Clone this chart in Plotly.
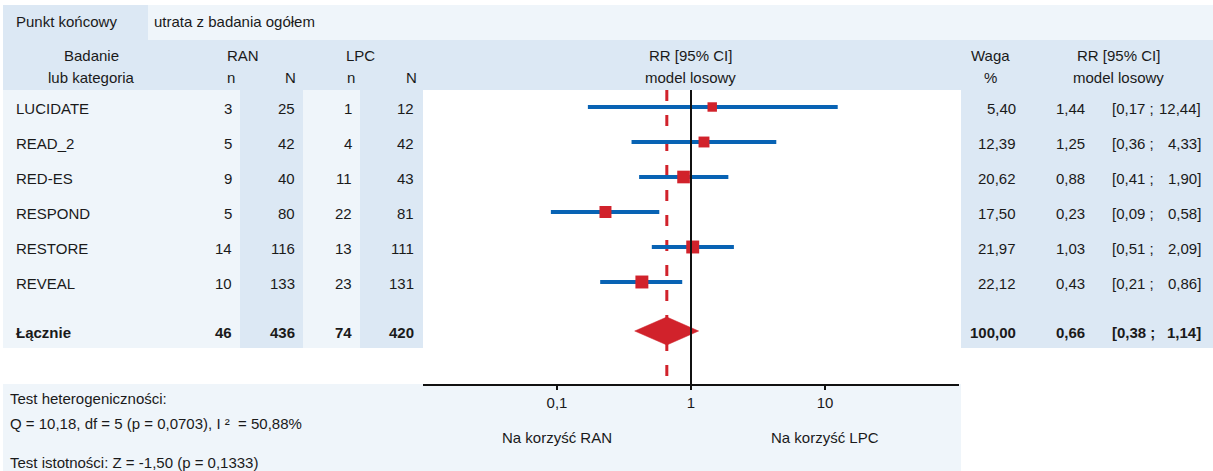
import numpy as np
import plotly.graph_objects as go

# ---- data -------------------------------------------------------------
studies = ["LUCIDATE", "READ_2", "RED-ES", "RESPOND", "RESTORE", "REVEAL"]
ran_n = [3, 5, 9, 5, 14, 10]
ran_N = [25, 42, 40, 80, 116, 133]
lpc_n = [1, 4, 11, 22, 13, 23]
lpc_N = [12, 42, 43, 81, 111, 131]
weights = [5.40, 12.39, 20.62, 17.50, 21.97, 22.12]
rr = [1.44, 1.25, 0.88, 0.23, 1.03, 0.43]
ci_lo = [0.17, 0.36, 0.41, 0.09, 0.51, 0.21]
ci_hi = [12.44, 4.33, 1.90, 0.58, 2.09, 0.86]

total_label = "Łącznie"
total_ran_n, total_ran_N = 46, 436
total_lpc_n, total_lpc_N = 74, 420
total_weight = 100.00
pooled_rr, pooled_lo, pooled_hi = 0.66, 0.38, 1.14

endpoint_label = "Punkt końcowy"
endpoint_value = "utrata z badania ogółem"
heterogeneity_lines = ["Test heterogeniczności:",
                       "Q = 10,18, df = 5 (p = 0,0703), I ²  = 50,88%"]
significance_line = "Test istotności: Z = -1,50 (p = 0,1333)"
tick_vals = [0.1, 1, 10]
tick_text = ["0,1", "1", "10"]
favours = ["Na korzyść RAN", "Na korzyść LPC"]

# ---- layout helpers ---------------------------------------------------
W, H = 1213, 471
FONT = "Liberation Sans, Arial, sans-serif"
FS = 15
TXT = "#1a1a1a"
DARK = "#dce8f4"
LIGHT = "#eff5fa"
BLUE = "#0863b4"
RED = "#d1222b"


def px(x):
    return x / W


def py(y):
    return 1 - y / H


ROW0, ROWH = 107, 35           # pixel centre of first study row, row pitch
TOTAL_ROW = 6.4                # pooled row sits after a half-empty gap
PLOT_TOP, PLOT_BOT = 90, 384   # forest panel vertical extent (pixels)
PLOT_L, PLOT_R = 423, 959      # forest panel horizontal extent (pixels)


def row_px(r):
    return ROW0 + ROWH * r


def px_row(p):
    return (p - ROW0) / ROWH


def fmt(v):
    return f"{v:.2f}".replace(".", ",")


shapes = []


def rect(x0, y0, x1, y1, color):
    shapes.append(dict(type="rect", xref="paper", yref="paper",
                       x0=px(x0), x1=px(x1), y0=py(y1), y1=py(y0),
                       fillcolor=color, line=dict(width=0), layer="below"))


# background panels
rect(3, 5, 148, 40, DARK)
rect(148, 5, W, 40, LIGHT)
rect(3, 40, W, 90, DARK)
rect(3, 90, PLOT_L, 348, LIGHT)
rect(240, 90, 303, 348, DARK)
rect(360, 90, PLOT_L, 348, DARK)
rect(961, 90, W, 348, DARK)
rect(3, 384, 961, H, LIGHT)

annotations = []


def text(x, y, s, anchor="left", bold=False):
    annotations.append(dict(
        xref="paper", yref="paper", x=px(x), y=py(y),
        text=f"<b>{s}</b>" if bold else s, showarrow=False,
        xanchor=anchor, yanchor="middle",
        font=dict(family=FONT, size=FS, color=TXT)))


# top line and headers
text(14, 22, endpoint_label)
text(152, 22, endpoint_value)
H1, H2 = 56, 78
text(91, H1, "Badanie", "center")
text(91, H2, "lub kategoria", "center")
text(243, H1, "RAN", "center")
text(360, H1, "LPC", "center")
text(231, H2, "n", "center")
text(290, H2, "N", "center")
text(351, H2, "n", "center")
text(411, H2, "N", "center")
text(690, H1, "RR [95% CI]", "center")
text(690, H2, "model losowy", "center")
text(990, H1, "Waga", "center")
text(990, H2, "%", "center")
text(1118, H1, "RR [95% CI]", "center")
text(1118, H2, "model losowy", "center")

# table body
X_NAME, X_RN, X_RNN, X_LN, X_LNN = 14, 234, 297, 354, 416
X_W, X_RR, X_CIL, X_CIR = 1018, 1087, 1110, 1203


def table_row(r, name, a, b, c, d, w, est, lo, hi, bold=False):
    y = row_px(r) + 1.5
    text(X_NAME, y, name, "left", bold)
    text(X_RN, y, str(a), "right", bold)
    text(X_RNN, y, str(b), "right", bold)
    text(X_LN, y, str(c), "right", bold)
    text(X_LNN, y, str(d), "right", bold)
    text(X_W, y, fmt(w), "right", bold)
    text(X_RR, y, fmt(est), "right", bold)
    text(X_CIL, y, f"[{fmt(lo)} ;", "left", bold)
    text(X_CIR, y, f"{fmt(hi)}]", "right", bold)


for i, name in enumerate(studies):
    table_row(i, name, ran_n[i], ran_N[i], lpc_n[i], lpc_N[i],
              weights[i], rr[i], ci_lo[i], ci_hi[i])
table_row(TOTAL_ROW, total_label, total_ran_n, total_ran_N, total_lpc_n,
          total_lpc_N, total_weight, pooled_rr, pooled_lo, pooled_hi, bold=True)

# statistics under the table
text(8, 398, heterogeneity_lines[0])
text(8, 423, heterogeneity_lines[1])
text(8, 462, significance_line)

# favour labels centred under the outer ticks (log axis -> log10 units)
for v, s in zip([tick_vals[0], tick_vals[-1]], favours):
    annotations.append(dict(
        xref="x", yref="paper", x=np.log10(v), y=py(437), text=s,
        showarrow=False, xanchor="center", yanchor="middle",
        font=dict(family=FONT, size=FS, color=TXT)))

# ---- forest plot traces ----------------------------------------------
fig = go.Figure()

y_top, y_bot = px_row(PLOT_TOP), px_row(PLOT_BOT)

# pooled estimate reference (dashed)
fig.add_trace(go.Scatter(
    x=[pooled_rr, pooled_rr], y=[y_top, px_row(378)], mode="lines",
    line=dict(color=RED, width=3, dash="11px,14px"), hoverinfo="skip"))

# confidence intervals
cx, cy = [], []
for i in range(len(studies)):
    cx += [ci_lo[i], ci_hi[i], None]
    cy += [i, i, None]
fig.add_trace(go.Scatter(x=cx, y=cy, mode="lines",
                         line=dict(color=BLUE, width=4), hoverinfo="skip"))

# point estimates, box size grows with study weight
sizes = [8.3 + 0.21 * w for w in weights]
fig.add_trace(go.Scatter(
    x=rr, y=list(range(len(studies))), mode="markers",
    marker=dict(symbol="square", size=sizes, color=RED, opacity=1,
                line=dict(width=0)),
    hoverinfo="skip"))

# pooled diamond
dh = 14 / ROWH
fig.add_trace(go.Scatter(
    x=[pooled_lo, pooled_rr, pooled_hi, pooled_rr, pooled_lo],
    y=[TOTAL_ROW, TOTAL_ROW - dh, TOTAL_ROW, TOTAL_ROW + dh, TOTAL_ROW],
    mode="lines", fill="toself", fillcolor=RED,
    line=dict(color=RED, width=0.5), hoverinfo="skip"))

# line of no effect
fig.add_trace(go.Scatter(x=[1, 1], y=[y_top, y_bot], mode="lines",
                         line=dict(color="#111111", width=2), hoverinfo="skip"))

fig.update_layout(
    width=W, height=H,
    margin=dict(l=0, r=0, t=0, b=0),
    paper_bgcolor="white", plot_bgcolor="rgba(0,0,0,0)",
    showlegend=False,
    shapes=shapes, annotations=annotations,
    xaxis=dict(type="log", range=[-2, 2], domain=[px(PLOT_L), px(PLOT_R)],
               showline=True, linecolor="#111111", linewidth=2,
               ticks="outside", ticklen=4, tickwidth=2, tickcolor="#111111",
               tickvals=tick_vals, ticktext=tick_text,
               tickfont=dict(family=FONT, size=FS, color=TXT),
               showgrid=False, zeroline=False, fixedrange=True),
    yaxis=dict(visible=False, range=[y_bot, y_top],
               domain=[py(PLOT_BOT), py(PLOT_TOP)], fixedrange=True),
)

fig.write_html("out.html", config={"displayModeBar": False})
